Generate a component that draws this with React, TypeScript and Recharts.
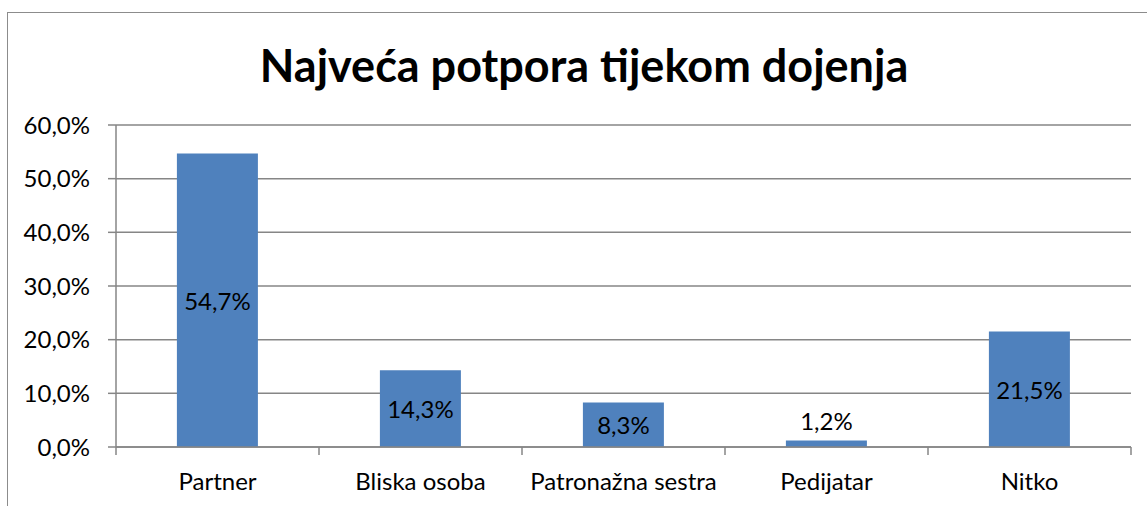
import { BarChart, Bar, XAxis, YAxis, CartesianGrid, LabelList } from 'recharts';

const categories = ['Partner', 'Bliska osoba', 'Patronažna sestra', 'Pedijatar', 'Nitko'];
const shares = [54.7, 14.3, 8.3, 1.2, 21.5];
const yTicks = [0, 10, 20, 30, 40, 50, 60];

const data = categories.map((name, i) => ({ name, share: shares[i] }));

const FONT = 'Lato, "Open Sans", sans-serif';
const GRID = '#868686';
const PLOT_LEFT = 116;
const PLOT_RIGHT = 1131;
const BAND = (PLOT_RIGHT - PLOT_LEFT) / categories.length;

const fmt = (v: number) => `${v.toFixed(1).replace('.', ',')}%`;

function CategoryTick(props: any) {
  const { x, y, payload, index } = props;
  const left = x - BAND / 2;
  return (
    <g>
      <line x1={left} x2={left} y1={y - 8} y2={y} stroke={GRID} strokeWidth={1.5} />
      {index === categories.length - 1 && (
        <line x1={x + BAND / 2} x2={x + BAND / 2} y1={y - 8} y2={y} stroke={GRID} strokeWidth={1.5} />
      )}
      <text x={x} y={y + 35} textAnchor="middle" fill="#000" fontSize={24} fontFamily={FONT}>
        {payload.value}
      </text>
    </g>
  );
}

function ShareLabel(props: any) {
  const { x, y, width, height, value } = props;
  const inside = height > 25;
  return (
    <text
      x={x + width / 2}
      y={inside ? y + height / 2 : y - 20}
      textAnchor="middle"
      dominantBaseline="central"
      fill="#000"
      fontSize={24}
      fontFamily={FONT}
    >
      {fmt(value)}
    </text>
  );
}

export default function App() {
  return (
    <div style={{ position: 'absolute', left: 0, top: 0, width: 1147, height: 506, overflow: 'hidden', background: '#fff' }}>
      <div
        style={{
          position: 'absolute',
          left: 7,
          top: 12,
          width: 1200,
          height: 600,
          border: '1.5px solid #8c8c8c',
          boxSizing: 'border-box',
        }}
      />
      <div
        style={{
          position: 'absolute',
          left: 0,
          top: 37,
          width: 1168,
          textAlign: 'center',
          fontFamily: FONT,
          fontWeight: 'bold',
          fontSize: 45,
          lineHeight: '56px',
          color: '#000',
        }}
      >
        Najveća potpora tijekom dojenja
      </div>
      <div style={{ position: 'absolute', left: 0, top: 0 }}>
        <BarChart
          width={1147}
          height={506}
          data={data}
          margin={{ top: 125, right: 1147 - PLOT_RIGHT, bottom: 0, left: 0 }}
          barCategoryGap="30%"
        >
          <CartesianGrid vertical={false} stroke={GRID} strokeWidth={1.5} />
          <YAxis
            width={PLOT_LEFT}
            domain={[0, 60]}
            ticks={yTicks}
            tickFormatter={fmt}
            axisLine={{ stroke: GRID, strokeWidth: 1.5 }}
            tickLine={{ stroke: GRID, strokeWidth: 1.5 }}
            tickSize={8}
            tickMargin={18}
            tick={{ fill: '#000', fontSize: 24, fontFamily: FONT }}
          />
          <XAxis
            dataKey="name"
            height={59}
            axisLine={{ stroke: GRID, strokeWidth: 1.5 }}
            tickLine={false}
            interval={0}
            tick={<CategoryTick />}
          />
          <Bar dataKey="share" fill="#4F81BD" isAnimationActive={false}>
            <LabelList dataKey="share" content={<ShareLabel />} />
          </Bar>
        </BarChart>
      </div>
    </div>
  );
}
